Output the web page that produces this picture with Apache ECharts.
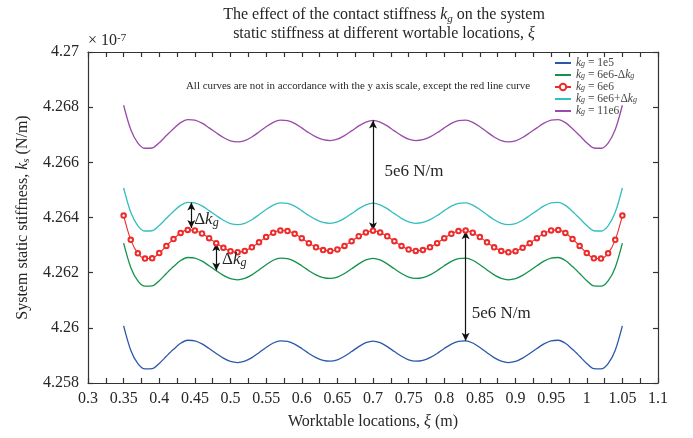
<!DOCTYPE html>
<html>
<head>
<meta charset="utf-8">
<script src="https://cdn.jsdelivr.net/npm/echarts@6/dist/echarts.min.js"></script>
<style>
  html, body { margin: 0; padding: 0; background: #fff; }
  #chart { width: 693px; height: 438px; }
</style>
</head>
<body>
<div id="chart"></div>
<script>
// Worktable locations xi (m)
const positions = [
  0.35, 0.36, 0.37, 0.38, 0.39, 0.40, 0.41, 0.42, 0.43, 0.44,
  0.45, 0.46, 0.47, 0.48, 0.49, 0.50, 0.51, 0.52, 0.53, 0.54,
  0.55, 0.56, 0.57, 0.58, 0.59, 0.60, 0.61, 0.62, 0.63, 0.64,
  0.65, 0.66, 0.67, 0.68, 0.69, 0.70, 0.71, 0.72, 0.73, 0.74,
  0.75, 0.76, 0.77, 0.78, 0.79, 0.80, 0.81, 0.82, 0.83, 0.84,
  0.85, 0.86, 0.87, 0.88, 0.89, 0.90, 0.91, 0.92, 0.93, 0.94,
  0.95, 0.96, 0.97, 0.98, 0.99, 1.00, 1.01, 1.02, 1.03, 1.04, 1.05
];

// Static stiffness (x 1e-7 scale on the axis), one array per contact stiffness kg
const ks_1e5 = [
  4.26007, 4.25919, 4.25870, 4.25851, 4.25852, 4.25871, 4.25897, 4.25922, 4.25944, 4.25955,
  4.25953, 4.25942, 4.25925, 4.25907, 4.25890, 4.25878, 4.25874, 4.25879, 4.25892, 4.25910,
  4.25929, 4.25945, 4.25953, 4.25951, 4.25941, 4.25925, 4.25907, 4.25892, 4.25882, 4.25879,
  4.25884, 4.25897, 4.25914, 4.25932, 4.25946, 4.25952, 4.25946, 4.25932, 4.25914, 4.25897,
  4.25884, 4.25879, 4.25882, 4.25892, 4.25907, 4.25925, 4.25941, 4.25951, 4.25953, 4.25945,
  4.25929, 4.25910, 4.25892, 4.25879, 4.25874, 4.25878, 4.25890, 4.25907, 4.25925, 4.25942,
  4.25953, 4.25955, 4.25944, 4.25922, 4.25897, 4.25871, 4.25852, 4.25851, 4.25870, 4.25919, 4.26007
];
const ks_6e6_minus = [
  4.26307, 4.26219, 4.26170, 4.26151, 4.26152, 4.26171, 4.26197, 4.26222, 4.26244, 4.26255,
  4.26253, 4.26242, 4.26225, 4.26207, 4.26190, 4.26178, 4.26174, 4.26179, 4.26192, 4.26210,
  4.26229, 4.26245, 4.26253, 4.26251, 4.26241, 4.26225, 4.26207, 4.26192, 4.26182, 4.26179,
  4.26184, 4.26197, 4.26214, 4.26232, 4.26246, 4.26252, 4.26246, 4.26232, 4.26214, 4.26197,
  4.26184, 4.26179, 4.26182, 4.26192, 4.26207, 4.26225, 4.26241, 4.26251, 4.26253, 4.26245,
  4.26229, 4.26210, 4.26192, 4.26179, 4.26174, 4.26178, 4.26190, 4.26207, 4.26225, 4.26242,
  4.26253, 4.26255, 4.26244, 4.26222, 4.26197, 4.26171, 4.26152, 4.26151, 4.26170, 4.26219, 4.26307
];
const ks_6e6 = [
  4.26407, 4.26319, 4.26270, 4.26251, 4.26252, 4.26271, 4.26297, 4.26322, 4.26344, 4.26355,
  4.26353, 4.26342, 4.26325, 4.26307, 4.26290, 4.26278, 4.26274, 4.26279, 4.26292, 4.26310,
  4.26329, 4.26345, 4.26353, 4.26351, 4.26341, 4.26325, 4.26307, 4.26292, 4.26282, 4.26279,
  4.26284, 4.26297, 4.26314, 4.26332, 4.26346, 4.26352, 4.26346, 4.26332, 4.26314, 4.26297,
  4.26284, 4.26279, 4.26282, 4.26292, 4.26307, 4.26325, 4.26341, 4.26351, 4.26353, 4.26345,
  4.26329, 4.26310, 4.26292, 4.26279, 4.26274, 4.26278, 4.26290, 4.26307, 4.26325, 4.26342,
  4.26353, 4.26355, 4.26344, 4.26322, 4.26297, 4.26271, 4.26252, 4.26251, 4.26270, 4.26319, 4.26407
];
const ks_6e6_plus = [
  4.26507, 4.26419, 4.26370, 4.26351, 4.26352, 4.26371, 4.26397, 4.26422, 4.26444, 4.26455,
  4.26453, 4.26442, 4.26425, 4.26407, 4.26390, 4.26378, 4.26374, 4.26379, 4.26392, 4.26410,
  4.26429, 4.26445, 4.26453, 4.26451, 4.26441, 4.26425, 4.26407, 4.26392, 4.26382, 4.26379,
  4.26384, 4.26397, 4.26414, 4.26432, 4.26446, 4.26452, 4.26446, 4.26432, 4.26414, 4.26397,
  4.26384, 4.26379, 4.26382, 4.26392, 4.26407, 4.26425, 4.26441, 4.26451, 4.26453, 4.26445,
  4.26429, 4.26410, 4.26392, 4.26379, 4.26374, 4.26378, 4.26390, 4.26407, 4.26425, 4.26442,
  4.26453, 4.26455, 4.26444, 4.26422, 4.26397, 4.26371, 4.26352, 4.26351, 4.26370, 4.26419, 4.26507
];
const ks_11e6 = [
  4.26807, 4.26719, 4.26670, 4.26651, 4.26652, 4.26671, 4.26697, 4.26722, 4.26744, 4.26755,
  4.26753, 4.26742, 4.26725, 4.26707, 4.26690, 4.26678, 4.26674, 4.26679, 4.26692, 4.26710,
  4.26729, 4.26745, 4.26753, 4.26751, 4.26741, 4.26725, 4.26707, 4.26692, 4.26682, 4.26679,
  4.26684, 4.26697, 4.26714, 4.26732, 4.26746, 4.26752, 4.26746, 4.26732, 4.26714, 4.26697,
  4.26684, 4.26679, 4.26682, 4.26692, 4.26707, 4.26725, 4.26741, 4.26751, 4.26753, 4.26745,
  4.26729, 4.26710, 4.26692, 4.26679, 4.26674, 4.26678, 4.26690, 4.26707, 4.26725, 4.26742,
  4.26753, 4.26755, 4.26744, 4.26722, 4.26697, 4.26671, 4.26652, 4.26651, 4.26670, 4.26719, 4.26807
];

// Legend entries (kg values)
const kgLabels = ['1e5', '6e6-Δk', '6e6', '6e6+Δk', '11e6'];

// Axis ranges
const xMin = 0.3, xMax = 1.1, xStep = 0.025;
const yMin = 4.258, yMax = 4.27, yStep = 0.002;

// Arrow annotations: [x, yFrom, yTo]
const arrows = [
  [0.70, 4.26354, 4.26752],
  [0.83, 4.26350, 4.25953],
  [0.445, 4.26454, 4.26362],
  [0.48, 4.26307, 4.26208]
];

const FONT = '"Liberation Serif", "Times New Roman", Times, serif';
const INK = '#262626';

// Rich-text styles: n normal, i italic, s italic subscript, u superscript
function richStyles(F, L, color) {
  const c = color || INK;
  const f = Math.round(F * 0.7);
  return {
    n: { fontFamily: FONT, fontSize: F, lineHeight: L, color: c, fill: c },
    i: { fontFamily: FONT, fontSize: F, lineHeight: L, color: c, fill: c, fontStyle: 'italic' },
    s: { fontFamily: FONT, fontSize: f, lineHeight: Math.max(1, L - 0.71 * F), color: c, fill: c,
         fontStyle: 'italic', verticalAlign: 'bottom' },
    u: { fontFamily: FONT, fontSize: f, lineHeight: Math.max(1, L - 0.59 * F), color: c, fill: c,
         verticalAlign: 'top' }
  };
}

function kgText(label) {
  const m = label.match(/^(.*)([+-])Δk$/);
  if (m) return '{i|k}{s|g}{n| = ' + m[1] + m[2] + 'Δ}{i|k}{s|g}';
  return '{i|k}{s|g}{n| = ' + label + '}';
}

const colors = ['#2c58aa', '#13924b', '#ee2b2b', '#35bebe', '#9b4aa9'];
const valueSets = [ks_1e5, ks_6e6_minus, ks_6e6, ks_6e6_plus, ks_11e6];

const chart = echarts.init(document.getElementById('chart'), null, { renderer: 'canvas' });

const axisLineStyle = { color: '#333', width: 1.2 };

const series = valueSets.map((vals, k) => {
  const isRed = k === 2;
  const s = {
    name: kgLabels[k],
    type: 'line',
    xAxisIndex: 0,
    yAxisIndex: 0,
    data: positions.map((x, i) => [x, vals[i]]),
    smooth: 0.3,
    symbol: isRed ? 'emptyCircle' : 'none',
    symbolSize: 4.5,
    showSymbol: isRed,
    lineStyle: { color: colors[k], width: isRed ? 1.1 : 1.3 },
    itemStyle: { color: colors[k], borderColor: colors[k], borderWidth: 0.9 },
    z: isRed ? 5 : 3,
    emphasis: { disabled: true }
  };
  if (isRed) {
    s.markLine = {
      silent: true,
      symbol: ['arrow', 'arrow'],
      symbolSize: [6, 8],
      precision: 5,
      label: { show: false },
      lineStyle: { color: '#111', width: 1.2, type: 'solid' },
      emphasis: { disabled: true },
      data: arrows.map(a => [{ coord: [a[0], a[1]] }, { coord: [a[0], a[2]] }])
    };
  }
  return s;
});

const xLabelFmt = v => {
  const r = Math.round(v * 1000);
  if (r % 50 !== 0) return '';
  return String(+v.toFixed(2));
};

const legendItems = kgLabels.map((name, k) => (
  k === 2
    ? { name, itemStyle: { borderWidth: 1 } }
    : { name, itemStyle: { opacity: 0 } }
));

const option = {
  animation: false,
  backgroundColor: '#fff',
  grid: { left: 88, right: 35, top: 52, bottom: 55, containLabel: false, outerBoundsMode: 'none' },
  legend: {
    orient: 'vertical',
    left: 554,
    top: 57,
    padding: 0,
    itemWidth: 16,
    itemHeight: 8,
    itemGap: 0,
    selectedMode: false,
    data: legendItems,
    formatter: name => kgText(name),
    textStyle: { color: '#444', lineHeight: 9, rich: richStyles(11.5, 9, '#444') }
  },
  xAxis: [
    {
      type: 'value', position: 'bottom', min: xMin, max: xMax, interval: xStep,
      axisLine: { show: true, onZero: false, lineStyle: axisLineStyle },
      axisTick: { show: true, inside: true, length: 5, lineStyle: axisLineStyle },
      splitLine: { show: false },
      axisLabel: { formatter: xLabelFmt, margin: 8, color: INK, fontFamily: FONT, fontSize: 16, showMinLabel: true, showMaxLabel: true },
      name: '{n|Worktable locations, }{i|ξ}{n| (m)}',
      nameLocation: 'middle',
      nameGap: 30,
      nameTextStyle: { rich: richStyles(16, 18) }
    },
    {
      type: 'value', position: 'top', min: xMin, max: xMax, interval: xStep,
      axisLine: { show: true, onZero: false, lineStyle: axisLineStyle },
      axisTick: { show: true, inside: true, length: 5, lineStyle: axisLineStyle },
      splitLine: { show: false },
      axisLabel: { show: false }
    }
  ],
  yAxis: [
    {
      type: 'value', position: 'left', min: yMin, max: yMax, interval: yStep,
      axisLine: { show: true, onZero: false, lineStyle: axisLineStyle },
      axisTick: { show: true, inside: true, length: 5, lineStyle: axisLineStyle },
      splitLine: { show: false },
      axisLabel: { formatter: v => String(+v.toFixed(3)), margin: 9, color: INK, fontFamily: FONT, fontSize: 16, showMinLabel: true, showMaxLabel: true },
      name: '{n|System static stiffness, }{i|k}{s|s}{n| (N/m)}',
      nameLocation: 'middle',
      nameRotate: 90,
      nameGap: 56,
      nameTextStyle: { rich: richStyles(16, 18) }
    },
    {
      type: 'value', position: 'right', min: yMin, max: yMax, interval: yStep,
      axisLine: { show: true, onZero: false, lineStyle: axisLineStyle },
      axisTick: { show: true, inside: true, length: 5, lineStyle: axisLineStyle },
      splitLine: { show: false },
      axisLabel: { show: false }
    }
  ],
  series: series
};

chart.setOption(option);

// Text annotations placed in data coordinates
function px(x, y) { return chart.convertToPixel({ gridIndex: 0 }, [x, y]); }

function textEl(pos, text, F, L, align, vAlign) {
  return {
    type: 'text',
    x: pos[0], y: pos[1],
    silent: true,
    z: 20,
    style: {
      text: text,
      rich: richStyles(F, L),
      fill: INK,
      fontFamily: FONT,
      fontSize: F,
      align: align, textAlign: align,
      verticalAlign: vAlign, textVerticalAlign: vAlign
    }
  };
}

const plotLeft = px(xMin, yMax);

chart.setOption({
  graphic: [
    textEl([384, 5],
      '{n|The effect of the contact stiffness }{i|k}{s|g}{n| on the system}\n{n|static stiffness at different wortable locations, }{i|ξ}',
      16, 19.5, 'center', 'top'),
    textEl([plotLeft[0], plotLeft[1] - 11], '{n|× 10}{u|-7}', 16, 16, 'left', 'middle'),
    textEl([186, 86], '{n|All curves are not in accordance with the y axis scale, except the red line curve}', 10.9, 12, 'left', 'middle'),
    textEl(px(0.716, 4.26566), '{n|5e6 N/m}', 17, 18, 'left', 'middle'),
    textEl(px(0.8385, 4.26051), '{n|5e6 N/m}', 17, 18, 'left', 'middle'),
    textEl(px(0.449, 4.26393), '{n|Δ}{i|k}{s|g}', 17, 18, 'left', 'middle'),
    textEl(px(0.488, 4.26247), '{n|Δ}{i|k}{s|g}', 17, 18, 'left', 'middle')
  ]
});
</script>
</body>
</html>
